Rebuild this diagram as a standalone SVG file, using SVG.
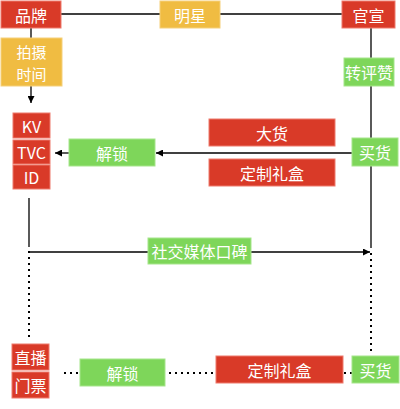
<svg xmlns="http://www.w3.org/2000/svg" width="400" height="409" viewBox="0 0 400 409">
<style>
.r{fill:#D93A28;stroke:#EE7A6C;stroke-width:1}
.y{fill:#F0BC42;stroke:#F5D07A;stroke-width:1}
.g{fill:#7ED65A;stroke:#A6E58B;stroke-width:1}
text{font-family:"Noto Sans CJK SC","Noto Sans",sans-serif;font-size:16px;fill:#fff;text-anchor:middle;dominant-baseline:central}
.sm{font-size:15px}
.ln{stroke:#000;stroke-width:1.3;fill:none}
.dt{stroke:#000;stroke-width:2;fill:none;stroke-dasharray:2 4}
</style>
<defs>
<marker id="ah" viewBox="0 0 10 10" refX="10" refY="5" markerWidth="7" markerHeight="7" orient="auto" markerUnits="userSpaceOnUse">
<path d="M0,0 L10,5 L0,10 z" fill="#000"/>
</marker>
</defs>
<g id="connectors">
<line class="ln" x1="61" y1="14" x2="160" y2="14"/>
<line class="ln" x1="220" y1="14" x2="342" y2="14"/>
<line class="ln" x1="31" y1="28" x2="31" y2="38"/>
<line class="ln" x1="31" y1="86" x2="31" y2="103" marker-end="url(#ah)"/>
<line class="ln" x1="371" y1="28" x2="371" y2="248"/>
<line class="ln" x1="352" y1="153" x2="156" y2="153" marker-end="url(#ah)"/>
<line class="ln" x1="69" y1="153" x2="55" y2="153" marker-end="url(#ah)"/>
<line class="ln" x1="29" y1="198" x2="29" y2="247"/>
<line class="ln" x1="29" y1="252" x2="148" y2="252"/>
<line class="ln" x1="251" y1="252" x2="370" y2="252" marker-end="url(#ah)"/>
<line class="dt" x1="29" y1="251" x2="29" y2="341"/>
<line class="dt" x1="371" y1="253" x2="371" y2="355"/>
<line class="dt" x1="64" y1="373" x2="80" y2="373"/>
<line class="dt" x1="169" y1="373" x2="216" y2="373"/>
<line class="dt" x1="344" y1="373" x2="352" y2="373"/>
</g>
<g id="n-pinpai"><rect class="r" x="1" y="1" width="60" height="27"/><text x="31" y="14.5">品牌</text></g>
<g id="n-mingxing"><rect class="y" x="160" y="1" width="60" height="27"/><text x="190" y="14.5">明星</text></g>
<g id="n-guanxuan"><rect class="r" x="342" y="1" width="53" height="27"/><text x="368.5" y="14.5">官宣</text></g>
<g id="n-paishe"><rect class="y" x="1" y="38" width="61" height="48"/><text class="sm" x="31.5" y="51">拍摄</text><text class="sm" x="31.5" y="73">时间</text></g>
<g id="n-zhuanpingzan"><rect class="g" x="344" y="58" width="50" height="28"/><text x="369" y="72">转评赞</text></g>
<g id="n-kv"><rect class="r" x="13" y="113" width="37" height="25"/><text x="31.5" y="125.5">KV</text></g>
<g id="n-tvc"><rect class="r" x="13" y="140" width="37" height="24"/><text x="31.5" y="152">TVC</text></g>
<g id="n-id"><rect class="r" x="13" y="165" width="37" height="24"/><text x="31.5" y="177">ID</text></g>
<g id="n-jiesuo1"><rect class="g" x="69" y="139" width="86" height="27"/><text x="112" y="152.5">解锁</text></g>
<g id="n-dahuo"><rect class="r" x="209" y="119" width="126" height="27"/><text x="272" y="132.5">大货</text></g>
<g id="n-dingzhi1"><rect class="r" x="209" y="159" width="126" height="27"/><text x="272" y="172.5">定制礼盒</text></g>
<g id="n-maihuo1"><rect class="g" x="352" y="138" width="46" height="28"/><text x="375" y="152">买货</text></g>
<g id="n-shejiao"><rect class="g" x="148" y="238" width="103" height="26"/><text x="199.5" y="251">社交媒体口碑</text></g>
<g id="n-zhibo"><rect class="r" x="12" y="344" width="37" height="26"/><text x="30.5" y="357">直播</text></g>
<g id="n-menpiao"><rect class="r" x="12" y="372" width="37" height="26"/><text x="30.5" y="385">门票</text></g>
<g id="n-jiesuo2"><rect class="g" x="80" y="359" width="85" height="27"/><text x="122.5" y="372.5">解锁</text></g>
<g id="n-dingzhi2"><rect class="r" x="216" y="356" width="127" height="27"/><text x="279.5" y="369.5">定制礼盒</text></g>
<g id="n-maihuo2"><rect class="g" x="352" y="356" width="47" height="27"/><text x="375.5" y="369.5">买货</text></g>
</svg>
